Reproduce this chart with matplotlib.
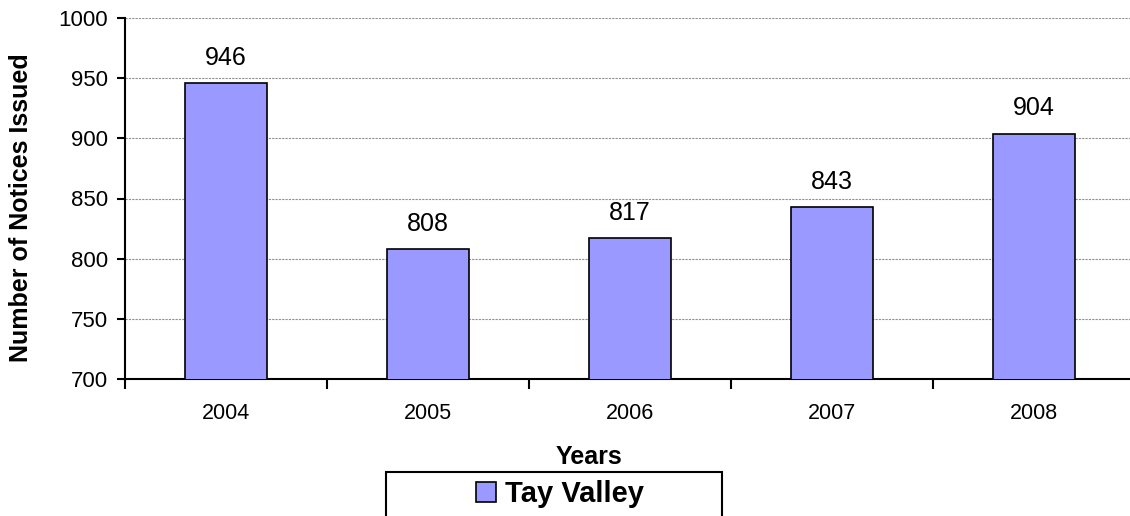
import numpy as np
import matplotlib
matplotlib.use("Agg")
import matplotlib.pyplot as plt
from matplotlib.patches import Rectangle
from matplotlib.ticker import MultipleLocator

# datos
years = ["2004", "2005", "2006", "2007", "2008"]
notices = [946, 808, 817, 843, 904]
serie = "Tay Valley"

plt.rcParams['font.family'] = ['Liberation Sans', 'DejaVu Sans']

fig = plt.figure(figsize=(11.3, 5.16), dpi=100)
W, H = 1130, 516
ax = fig.add_axes([125 / W, 1 - 379 / H, 1010 / W, 361 / H])

x = np.arange(len(years))
bars = ax.bar(x, notices, width=0.41, color="#9999FF", edgecolor="black",
              linewidth=1.2, label=serie, zorder=3)

# etiquetas de valor
for xi, v in zip(x, notices):
    ax.annotate(str(v), (xi, v), xytext=(0, 13), textcoords="offset points",
                ha="center", va="baseline", fontsize=18)

ax.set_ylim(700, 1000)
ax.set_xlim(-0.5, len(years) - 0.5)
ax.yaxis.set_major_locator(MultipleLocator(50))
ax.grid(axis="y", color="#909090", linestyle=(0, (2, 1)), linewidth=0.8, zorder=0)

ax.set_xticks(x)
ax.set_xticklabels(years, fontsize=15.5)
ax.set_xticks(np.arange(-0.5, len(years)), minor=True)
ax.tick_params(axis="x", which="major", length=0, pad=17)
ax.tick_params(axis="x", which="minor", length=7, width=1.5, direction="out")
ax.tick_params(axis="y", labelsize=16, length=6, width=1.5, pad=6)

for s in ["top", "right"]:
    ax.spines[s].set_visible(False)
ax.spines["left"].set_linewidth(1.5)
ax.spines["bottom"].set_linewidth(1.5)

ax.set_ylabel("Number of Notices Issued", fontsize=18, fontweight="bold")
ax.yaxis.set_label_coords(-0.091, 0.476)
ax.set_xlabel("Years", fontsize=18, fontweight="bold")
ax.xaxis.set_label_coords(0.459, -0.183)

# leyenda con marco propio
leg = fig.legend(handles=[bars], labels=[serie], loc="center",
                 bbox_to_anchor=(560 / W, 1 - 494 / H), frameon=False,
                 prop={"size": 21, "weight": "bold"}, handlelength=0.7,
                 handleheight=0.7, handletextpad=0.3)
fig.patches.append(Rectangle((386 / W, -0.05), 336 / W, 1 - 472 / H + 0.05,
                             transform=fig.transFigure, fill=False,
                             edgecolor="black", linewidth=1.5))

plt.savefig("out.png", dpi=100)
